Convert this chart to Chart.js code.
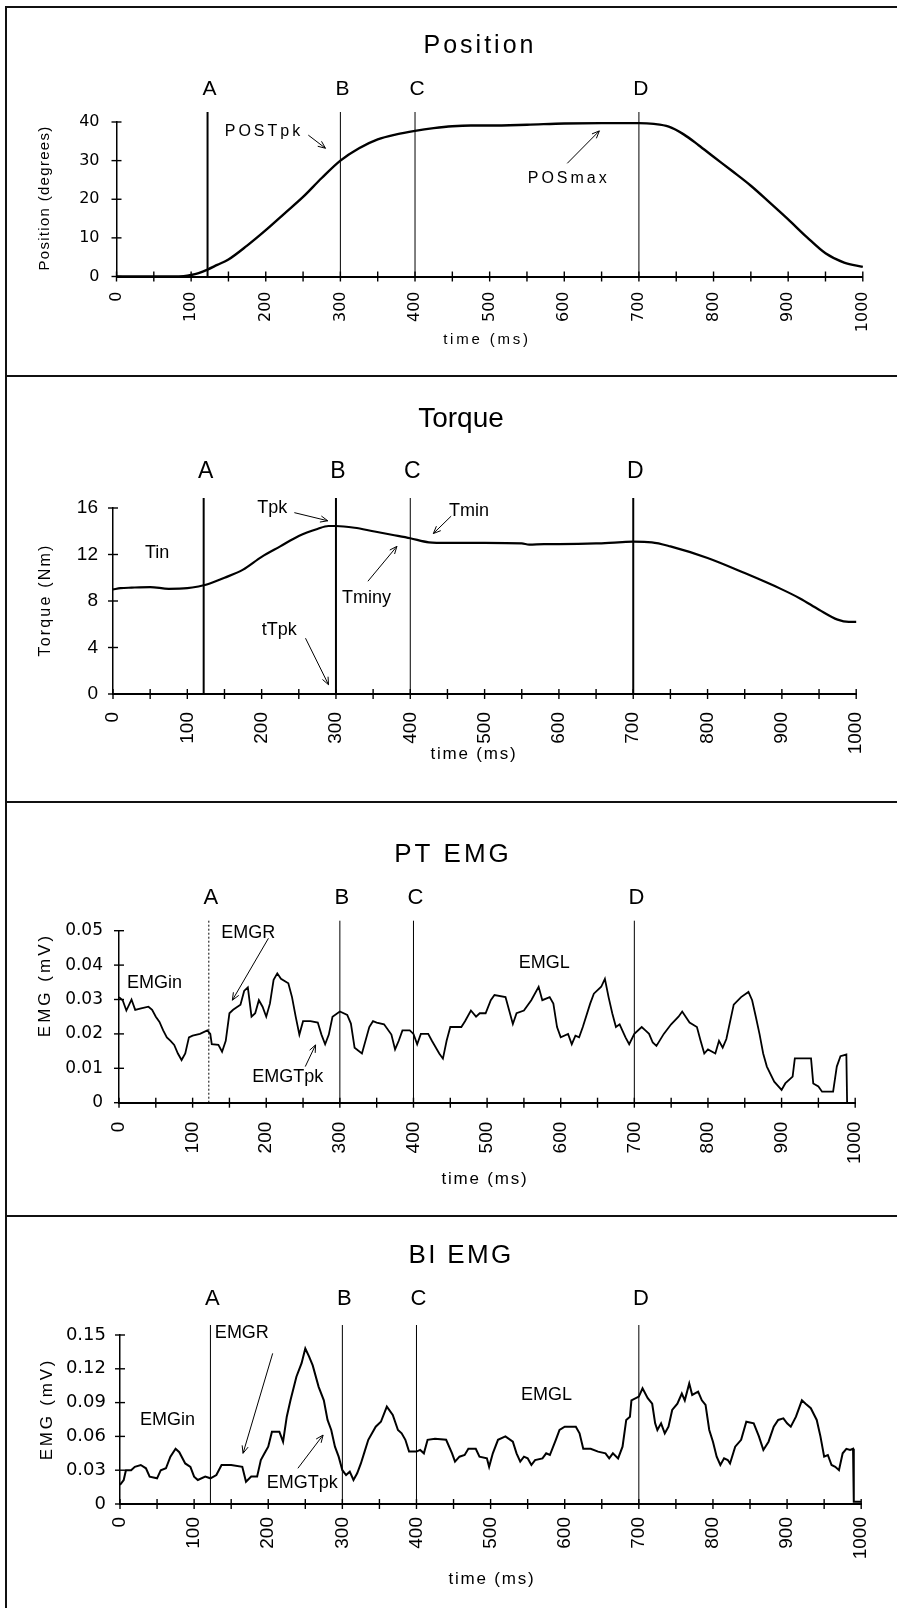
<!DOCTYPE html>
<html>
<head>
<meta charset="utf-8">
<title>Position, Torque, PT EMG, BI EMG</title>
<script src="https://cdn.jsdelivr.net/npm/chart.js@4.4.0/dist/chart.umd.min.js"></script>
<style>
  body { margin: 0; background: #fff; }
  #page { position: relative; width: 897px; height: 1608px; overflow: hidden; background: #fff; }
  .panel { position: absolute; left: 0; width: 897px; }
  .panel canvas { display: block; }
  .rule { position: absolute; background: #111; }
</style>
</head>
<body>
<div id="page">
  <div class="panel" style="top:7px;height:369px"><canvas id="posChart" width="897" height="369"></canvas></div>
  <div class="panel" style="top:376px;height:426px"><canvas id="torqChart" width="897" height="426"></canvas></div>
  <div class="panel" style="top:802px;height:414px"><canvas id="ptChart" width="897" height="414"></canvas></div>
  <div class="panel" style="top:1216px;height:392px"><canvas id="biChart" width="897" height="392"></canvas></div>

  <div class="rule" style="left:5px;top:6px;width:2px;height:1602px"></div>
  <div class="rule" style="left:5px;top:6px;width:892px;height:2px"></div>
  <div class="rule" style="left:5px;top:375px;width:892px;height:2px"></div>
  <div class="rule" style="left:5px;top:801px;width:892px;height:2px"></div>
  <div class="rule" style="left:5px;top:1215px;width:892px;height:2px"></div>
</div>

<script>
// shared time axis and event markers
const timeLabels = ["0", "100", "200", "300", "400", "500", "600", "700", "800", "900", "1000"];
const markerTimes = [122, 300, 400, 700];
const markerNames = ["A", "B", "C", "D"];

// elbow position (degrees)
const posTime = [0, 25, 50, 75, 90, 100, 110, 122, 135, 150, 175, 200, 225, 250, 275, 300, 325, 350, 375, 400,
  425, 450, 475, 500, 550, 600, 650, 700, 720, 740, 760, 780, 800, 825, 850, 875, 900, 925, 950, 975, 1000];
const posDeg = [0, 0, 0, 0, 0.1, 0.4, 0.9, 1.8, 3.0, 4.4, 8.0, 12.0, 16.3, 20.6, 25.5, 30.0, 33.2, 35.5, 36.8, 37.7,
  38.4, 38.9, 39.1, 39.1, 39.3, 39.6, 39.7, 39.7, 39.5, 38.8, 36.8, 34.0, 31.0, 27.3, 23.5, 19.2, 14.8, 10.2, 6.0, 3.6, 2.5];
const posTicks = ["0", "10", "20", "30", "40"];

// torque (Nm)
const torqTime = [0, 10, 25, 50, 75, 100, 115, 125, 150, 175, 200, 225, 250, 275, 290, 300, 325, 350, 375, 400,
  425, 450, 500, 550, 560, 580, 600, 650, 680, 700, 725, 750, 800, 850, 900, 925, 950, 975, 990, 1000];
const torqNm = [9.0, 9.1, 9.15, 9.2, 9.05, 9.1, 9.25, 9.4, 10.0, 10.7, 11.8, 12.7, 13.6, 14.2, 14.45, 14.45, 14.3, 14.0, 13.7, 13.4,
  13.05, 13.0, 13.0, 12.95, 12.85, 12.9, 12.9, 12.95, 13.05, 13.1, 13.05, 12.7, 11.7, 10.4, 9.0, 8.2, 7.25, 6.4, 6.2, 6.2];
const torqTicks = ["0", "4", "8", "12", "16"];

// PT EMG (mV)
const ptTime = [0, 5, 10, 17, 22, 30, 40, 45, 50, 55, 60, 65, 70, 75, 80, 85, 90, 95, 100, 110,
  120, 124, 126, 135, 140, 145, 150, 155, 165, 170, 175, 180, 185, 190, 195, 200, 205, 210, 215, 220,
  230, 235, 240, 245, 250, 260, 270, 275, 280, 285, 290, 300, 310, 315, 320, 330, 340, 345, 350, 360,
  370, 375, 380, 385, 395, 400, 405, 410, 420, 425, 435, 440, 445, 450, 465, 470, 478, 485, 490, 498,
  505, 510, 525, 530, 535, 540, 550, 560, 570, 575, 585, 590, 595, 600, 610, 615, 620, 625, 630, 640,
  645, 655, 660, 665, 670, 675, 680, 688, 693, 700, 710, 715, 720, 725, 730, 740, 750, 760, 765, 775,
  785, 790, 795, 800, 810, 815, 820, 825, 835, 845, 855, 860, 865, 870, 875, 880, 890, 900, 905, 915,
  918, 940, 943, 950, 955, 970, 975, 980, 988, 989];
const ptEmg = [0.0307, 0.0298, 0.0268, 0.0300, 0.0270, 0.0274, 0.0279, 0.0270, 0.0250, 0.0235, 0.0210, 0.0190, 0.0180, 0.0168, 0.0143, 0.0124, 0.0143, 0.0190, 0.0195, 0.0200,
  0.0210, 0.0200, 0.0170, 0.0168, 0.0148, 0.0180, 0.0260, 0.0270, 0.0285, 0.0325, 0.0335, 0.0250, 0.0260, 0.0298, 0.0279, 0.0250, 0.0288, 0.0357, 0.0376, 0.0360,
  0.0347, 0.0307, 0.0250, 0.0198, 0.0237, 0.0237, 0.0233, 0.0198, 0.0170, 0.0198, 0.0250, 0.0265, 0.0255, 0.0230, 0.0160, 0.0143, 0.0220, 0.0237, 0.0233, 0.0228,
  0.0198, 0.0155, 0.0180, 0.0210, 0.0210, 0.0200, 0.0170, 0.0200, 0.0200, 0.0180, 0.0143, 0.0128, 0.0180, 0.0220, 0.0220, 0.0237, 0.0268, 0.0250, 0.0260, 0.0260,
  0.0298, 0.0313, 0.0307, 0.0268, 0.0229, 0.0260, 0.0268, 0.0298, 0.0337, 0.0298, 0.0307, 0.0288, 0.0220, 0.0190, 0.0200, 0.0170, 0.0195, 0.0190, 0.0220, 0.0288,
  0.0317, 0.0337, 0.0360, 0.0307, 0.0260, 0.0220, 0.0228, 0.0190, 0.0170, 0.0200, 0.0220, 0.0210, 0.0200, 0.0175, 0.0165, 0.0200, 0.0228, 0.0250, 0.0265, 0.0233,
  0.0220, 0.0180, 0.0143, 0.0155, 0.0143, 0.0180, 0.0160, 0.0185, 0.0285, 0.0307, 0.0322, 0.0298, 0.0250, 0.0200, 0.0143, 0.0105, 0.0061, 0.0037, 0.0056, 0.0076,
  0.0129, 0.0129, 0.0056, 0.0047, 0.0032, 0.0032, 0.0105, 0.0135, 0.0140, 0.0000];
const ptTicks = ["0", "0.01", "0.02", "0.03", "0.04", "0.05"];

// BI EMG (mV)
const biTime = [0, 5, 8, 15, 20, 28, 35, 40, 50, 55, 62, 68, 75, 80, 88, 95, 100, 105, 115, 122,
  130, 137, 150, 165, 170, 177, 185, 190, 195, 200, 205, 215, 220, 225, 230, 238, 245, 250, 255, 260,
  268, 275, 280, 285, 290, 295, 300, 305, 310, 315, 320, 325, 330, 335, 345, 352, 360, 368, 375, 380,
  385, 390, 400, 405, 410, 415, 425, 440, 448, 452, 458, 465, 470, 480, 485, 495, 498, 503, 510, 520,
  530, 535, 540, 545, 550, 555, 560, 570, 575, 580, 588, 593, 600, 615, 620, 625, 635, 645, 655, 660,
  665, 672, 678, 683, 688, 690, 700, 705, 712, 718, 722, 725, 730, 735, 740, 745, 752, 758, 762, 768,
  772, 780, 785, 790, 795, 800, 805, 810, 815, 820, 823, 830, 838, 845, 855, 862, 868, 875, 882, 888,
  895, 900, 905, 912, 920, 925, 932, 940, 945, 950, 955, 960, 965, 970, 975, 980, 985, 989, 990, 1000];
const biEmg = [0.0169, 0.0213, 0.0300, 0.0300, 0.0330, 0.0346, 0.0317, 0.0243, 0.0228, 0.0300, 0.0317, 0.0420, 0.0490, 0.0460, 0.0360, 0.0330, 0.0243, 0.0213, 0.0243, 0.0228,
  0.0257, 0.0346, 0.0346, 0.0330, 0.0198, 0.0243, 0.0243, 0.0390, 0.0450, 0.0509, 0.0642, 0.0642, 0.0553, 0.0775, 0.0920, 0.1130, 0.1250, 0.1380, 0.1310, 0.1230,
  0.1040, 0.0920, 0.0746, 0.0657, 0.0509, 0.0420, 0.0300, 0.0257, 0.0287, 0.0213, 0.0272, 0.0360, 0.0465, 0.0570, 0.0686, 0.0730, 0.0864, 0.0790, 0.0657, 0.0627,
  0.0570, 0.0465, 0.0465, 0.0480, 0.0450, 0.0570, 0.0580, 0.0570, 0.0450, 0.0376, 0.0420, 0.0435, 0.0490, 0.0490, 0.0420, 0.0405, 0.0330, 0.0450, 0.0570, 0.0600,
  0.0553, 0.0450, 0.0376, 0.0420, 0.0405, 0.0346, 0.0390, 0.0405, 0.0450, 0.0435, 0.0570, 0.0657, 0.0686, 0.0686, 0.0627, 0.0490, 0.0490, 0.0465, 0.0450, 0.0405,
  0.0450, 0.0405, 0.0509, 0.0746, 0.0775, 0.0920, 0.0953, 0.1027, 0.0940, 0.0890, 0.0716, 0.0657, 0.0716, 0.0627, 0.0686, 0.0835, 0.0890, 0.0980, 0.0920, 0.1070,
  0.0968, 0.0997, 0.0920, 0.0879, 0.0657, 0.0553, 0.0420, 0.0346, 0.0405, 0.0390, 0.0360, 0.0509, 0.0570, 0.0730, 0.0716, 0.0600, 0.0480, 0.0553, 0.0686, 0.0746,
  0.0760, 0.0716, 0.0686, 0.0775, 0.0920, 0.0890, 0.0850, 0.0746, 0.0600, 0.0420, 0.0435, 0.0346, 0.0330, 0.0300, 0.0450, 0.0490, 0.0480, 0.0490, 0.0020, 0.0020];
const biTicks = ["0", "0.03", "0.06", "0.09", "0.12", "0.15"];

// labelled points on each trace: text at [time, value], arrows from -> to
const posNotes = [
  { text: "POSTpk", at: [145, 37.5], from: [257, 36.6], to: [280, 33.2] },
  { text: "POSmax", at: [551, 25.4], from: [604, 29.3], to: [647, 37.7] }
];
const torqNotes = [
  { text: "Tin", at: [43, 12.1] },
  { text: "Tpk", at: [194, 16.0], from: [244, 15.6], to: [289, 14.9] },
  { text: "Tmin", at: [452, 15.7], from: [455, 15.3], to: [431, 13.8] },
  { text: "Tminy", at: [308, 8.25], from: [343, 9.7], to: [382, 12.7] },
  { text: "tTpk", at: [200, 5.46], from: [259, 4.8], to: [290, 0.8] }
];
const ptNotes = [
  { text: "EMGin", at: [11, 0.0349] },
  { text: "EMGR", at: [139, 0.0492], from: [203, 0.0478], to: [154, 0.0298] },
  { text: "EMGTpk", at: [181, 0.0074], from: [253, 0.0105], to: [267, 0.0168] },
  { text: "EMGL", at: [543, 0.0405] }
];
const biNotes = [
  { text: "EMGin", at: [27, 0.0746] },
  { text: "EMGR", at: [128, 0.1515], from: [206, 0.1337], to: [166, 0.045] },
  { text: "EMGTpk", at: [198, 0.019], from: [240, 0.0317], to: [274, 0.0612] },
  { text: "EMGL", at: [541, 0.0967] }
];

const SANS = "'Liberation Sans', Arial, Helvetica, sans-serif";
const WIDE = "'DejaVu Sans', Verdana, sans-serif";

const panels = [
  {
    id: "posChart", height: 369, time: posTime, values: posDeg, notes: posNotes, yMax: 40, yStep: 10, yLabels: posTicks,
    smooth: true, lineWidth: 2.4,
    area: { left: 116.5, right: 871, top: 115, bottom: 269.5 },
    title: { text: "Position", x: 480, y: 46, size: 25, spacing: 3 },
    letters: { y: 88, size: 21 }, lineWidths: [2, 1, 1, 1], dashed: [false, false, false, false],
    xTitle: { text: "time (ms)", x: 487, y: 337, size: 15, spacing: 2.8 },
    yTitle: { text: "Position (degrees)", x: 45, y: 191, size: 15, spacing: 1.3 },
    noteFont: { size: 16, spacing: 3 },
    xTick: { family: WIDE, size: 16, pad: 15 }, yTick: { family: WIDE, size: 16, pad: 17 }
  },
  {
    id: "torqChart", height: 426, time: torqTime, values: torqNm, notes: torqNotes, yMax: 16, yStep: 4, yLabels: torqTicks,
    smooth: true, lineWidth: 2.2,
    area: { left: 113, right: 869.5, top: 132, bottom: 318 },
    title: { text: "Torque", x: 461, y: 51, size: 28, spacing: 0 },
    letters: { y: 102, size: 23 }, lineWidths: [2, 2, 1, 2], dashed: [false, false, false, false],
    xTitle: { text: "time (ms)", x: 474, y: 383, size: 17, spacing: 1.8 },
    yTitle: { text: "Torque (Nm)", x: 46, y: 224, size: 16, spacing: 2.2 },
    noteFont: { size: 18, spacing: 0 },
    xTick: { family: SANS, size: 19, pad: 18 }, yTick: { family: SANS, size: 19, pad: 15 }
  },
  {
    id: "ptChart", height: 414, time: ptTime, values: ptEmg, notes: ptNotes, yMax: 0.05, yStep: 0.01, yLabels: ptTicks,
    smooth: false, lineWidth: 1.8,
    area: { left: 119, right: 869.5, top: 128.7, bottom: 300.7 },
    title: { text: "PT EMG", x: 453, y: 60, size: 26, spacing: 3 },
    letters: { y: 102, size: 22 }, lineWidths: [1, 1, 1, 1], dashed: [true, false, false, false],
    xTitle: { text: "time (ms)", x: 485, y: 382, size: 17, spacing: 1.8 },
    yTitle: { text: "EMG (mV)", x: 45, y: 183, size: 17, spacing: 3 },
    noteFont: { size: 18, spacing: 0 },
    xTick: { family: SANS, size: 19, pad: 19 }, yTick: { family: WIDE, size: 17, pad: 16 }
  },
  {
    id: "biChart", height: 392, time: biTime, values: biEmg, notes: biNotes, yMax: 0.15, yStep: 0.03, yLabels: biTicks,
    smooth: false, lineWidth: 2,
    area: { left: 120, right: 870.7, top: 119, bottom: 288 },
    title: { text: "BI EMG", x: 461, y: 47, size: 26, spacing: 2.3 },
    letters: { y: 89, size: 22 }, lineWidths: [1, 1, 1, 1], dashed: [false, false, false, false],
    xTitle: { text: "time (ms)", x: 492, y: 368, size: 17, spacing: 1.8 },
    yTitle: { text: "EMG (mV)", x: 47, y: 193, size: 17, spacing: 2.8 },
    noteFont: { size: 18, spacing: 0 },
    xTick: { family: SANS, size: 19, pad: 13 }, yTick: { family: WIDE, size: 18, pad: 14 }
  }
];

function drawText(ctx, str, x, y, size, spacing, align, baseline, rotate) {
  ctx.save();
  ctx.font = size + "px " + SANS;
  ctx.letterSpacing = (spacing || 0) + "px";
  ctx.textAlign = align;
  ctx.textBaseline = baseline;
  ctx.translate(x, y);
  if (rotate) ctx.rotate(rotate);
  ctx.fillText(str, 0, 0);
  ctx.restore();
}

function segment(ctx, x1, y1, x2, y2) {
  ctx.beginPath();
  ctx.moveTo(x1, y1);
  ctx.lineTo(x2, y2);
  ctx.stroke();
}

function arrow(ctx, x1, y1, x2, y2) {
  segment(ctx, x1, y1, x2, y2);
  const a = Math.atan2(y2 - y1, x2 - x1);
  const len = 8;
  [0.4, -0.4].forEach(d => {
    segment(ctx, x2, y2, x2 - len * Math.cos(a + d), y2 - len * Math.sin(a + d));
  });
}

// axis tick crosses, event lines, titles and labelled points
function panelMarks(p) {
  return {
    id: "panelMarks",
    afterDraw(chart) {
      const { ctx, chartArea: area, scales: { x, y } } = chart;
      ctx.save();
      ctx.strokeStyle = "#000";
      ctx.fillStyle = "#000";
      ctx.lineWidth = 1.4;

      x.ticks.forEach(t => {
        const px = x.getPixelForValue(t.value);
        segment(ctx, px, area.bottom - 5, px, area.bottom + 5);
      });
      y.ticks.forEach(t => {
        const py = y.getPixelForValue(t.value);
        segment(ctx, area.left - 5, py, area.left + 5, py);
      });

      markerTimes.forEach((t, i) => {
        const px = x.getPixelForValue(t);
        ctx.save();
        ctx.lineWidth = p.lineWidths[i];
        if (p.dashed[i]) ctx.setLineDash([2, 2]);
        segment(ctx, px, area.top - 10, px, area.bottom);
        ctx.restore();
        drawText(ctx, markerNames[i], px + 2, p.letters.y, p.letters.size, 0, "center", "alphabetic");
      });

      drawText(ctx, p.title.text, p.title.x, p.title.y, p.title.size, p.title.spacing, "center", "alphabetic");
      drawText(ctx, p.xTitle.text, p.xTitle.x, p.xTitle.y, p.xTitle.size, p.xTitle.spacing, "center", "alphabetic");
      drawText(ctx, p.yTitle.text, p.yTitle.x, p.yTitle.y, p.yTitle.size, p.yTitle.spacing, "center", "middle", -Math.PI / 2);

      ctx.lineWidth = 1;
      p.notes.forEach(n => {
        drawText(ctx, n.text, x.getPixelForValue(n.at[0]), y.getPixelForValue(n.at[1]),
          p.noteFont.size, p.noteFont.spacing, "left", "middle");
        if (n.from) {
          arrow(ctx, x.getPixelForValue(n.from[0]), y.getPixelForValue(n.from[1]),
            x.getPixelForValue(n.to[0]), y.getPixelForValue(n.to[1]));
        }
      });
      ctx.restore();
    }
  };
}

function makeChart(p) {
  const points = p.time.map((t, i) => ({ x: t, y: p.values[i] }));
  return new Chart(document.getElementById(p.id), {
    type: "line",
    data: {
      datasets: [{
        data: points,
        borderColor: "#000",
        borderWidth: p.lineWidth,
        pointRadius: 0,
        tension: 0,
        cubicInterpolationMode: p.smooth ? "monotone" : "default",
        clip: 3
      }]
    },
    options: {
      responsive: false,
      animation: false,
      devicePixelRatio: 1,
      layout: { padding: { top: p.area.top, right: 897 - p.area.right, bottom: 0, left: 0 } },
      plugins: { legend: { display: false }, tooltip: { enabled: false } },
      scales: {
        x: {
          type: "linear",
          min: 0,
          max: 1000,
          afterFit: s => { s.height = p.height - p.area.bottom; },
          grid: { display: false, drawTicks: false },
          border: { display: true, color: "#000", width: 2 },
          ticks: {
            stepSize: 50,
            autoSkip: false,
            minRotation: 90,
            maxRotation: 90,
            padding: p.xTick.pad,
            color: "#000",
            font: { family: p.xTick.family, size: p.xTick.size },
            callback: v => (v % 100 === 0 ? timeLabels[v / 100] : "")
          }
        },
        y: {
          type: "linear",
          min: 0,
          max: p.yMax,
          afterFit: s => { s.width = p.area.left; },
          grid: { display: false, drawTicks: false },
          border: { display: true, color: "#000", width: 1.5 },
          ticks: {
            stepSize: p.yStep,
            padding: p.yTick.pad,
            color: "#000",
            font: { family: p.yTick.family, size: p.yTick.size },
            callback: (v, i) => p.yLabels[i]
          }
        }
      }
    },
    plugins: [panelMarks(p)]
  });
}

panels.forEach(makeChart);
</script>
</body>
</html>
